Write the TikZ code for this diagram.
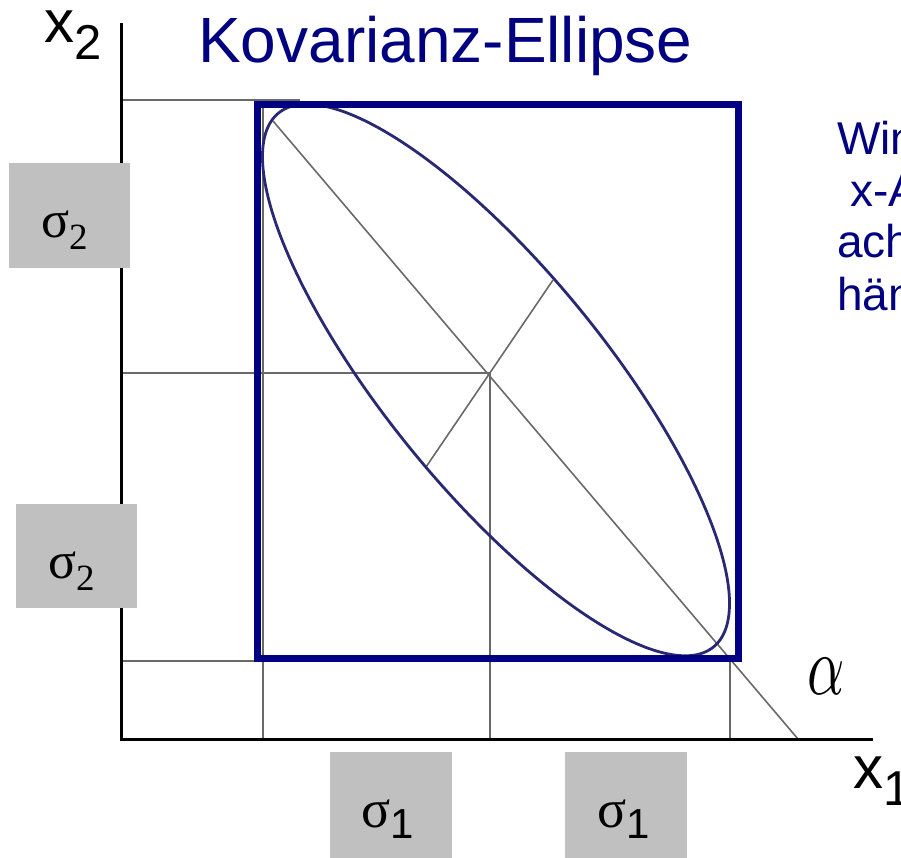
\documentclass[tikz,border=0pt]{standalone}
\usepackage{fontspec}
\setmainfont{Liberation Sans}
\newfontfamily\serifgreek{Liberation Serif}
\definecolor{navy}{RGB}{0,0,128}
\definecolor{ellcol}{RGB}{40,40,115}
\definecolor{guide}{RGB}{105,105,105}
\definecolor{sigbox}{RGB}{192,192,192}
\newcommand{\sigmaSerif}[1]{{\serifgreek\fontsize{52}{52}\selectfont σ}\raisebox{-12pt}{\serifgreek\fontsize{37}{37}\selectfont #1}}
\newcommand{\sigmaSans}[1]{{\serifgreek\fontsize{54}{54}\selectfont σ}\raisebox{-11pt}{\fontsize{42}{42}\selectfont #1}}
\begin{document}
\begin{tikzpicture}[x=1pt,y=-1pt,
  guideline/.style={draw=guide, line width=1.6pt},
  axisline/.style={draw=black, line width=3pt},
  boxline/.style={draw=navy, line width=7pt},
  ellipseline/.style={draw=ellcol, line width=2.8pt},
  sigmabox/.style={fill=sigbox, draw=none, inner sep=0pt, anchor=north west},
  lbl/.style={anchor=base west, inner sep=0pt},
  bluetext/.style={anchor=base west, inner sep=0pt, text=navy}]
\useasboundingbox (0,0) rectangle (901,858);
\begin{scope}
\clip (0,0) rectangle (901,858);
% coordinates
\coordinate (ytop) at (121,23);
\coordinate (orig) at (121,739);
\coordinate (xend) at (873,739);
\coordinate (hTopL) at (121,100);
\coordinate (hTopR) at (300,100);
\coordinate (hMidL) at (121,373);
\coordinate (cross) at (490,373);
\coordinate (cross0) at (490,739);
\coordinate (hBotL) at (121,661);
\coordinate (hBotR) at (256,661);
\coordinate (vLtop) at (263,105);
\coordinate (vLbot) at (263,739);
\coordinate (vRtop) at (730,658);
\coordinate (vRbot) at (730,739);
\coordinate (majA) at (273,121);
\coordinate (majB) at (798,739);
\coordinate (minA) at (426,467);
\coordinate (minB) at (553,280);
% guide lines
\draw[guideline] (hTopL) -- (hTopR);
\draw[guideline] (hMidL) -- (cross) -- (cross0);
\draw[guideline] (hBotL) -- (hBotR);
\draw[guideline] (vLtop) -- (vLbot);
\draw[guideline] (vRtop) -- (vRbot);
\draw[guideline] (majA) -- (majB);
\draw[guideline] (minA) -- (minB);
% axes
\draw[axisline] (ytop) -- (orig) -- (xend);
% ellipse
\draw[ellipseline] plot[domain=0:357, samples=120, smooth cycle, variable=\t]
  ({496+224*cos(\t)+66*sin(\t)},{380+260*cos(\t)-92*sin(\t)});
% bounding box
\draw[boxline] (257.5,105) rectangle (738.5,658);
% sigma boxes
\node[sigmabox, minimum width=121pt, minimum height=105pt] (sbA) at (9,163) {};
\node[sigmabox, minimum width=121pt, minimum height=104pt] (sbB) at (16,504) {};
\node[sigmabox, minimum width=122pt, minimum height=106pt] (sbC) at (330,752) {};
\node[sigmabox, minimum width=122pt, minimum height=106pt] (sbD) at (565,752) {};
\node[lbl] (sA) at (41,238) {\sigmaSerif{2}};
\node[lbl] (sB) at (48,578) {\sigmaSerif{2}};
\node[lbl] (sC) at (361,827) {\sigmaSans{1}};
\node[lbl] (sD) at (597,827) {\sigmaSans{1}};
% axis labels
\node[lbl] (x2lab) at (44,43) {\fontsize{60}{60}\selectfont x\raisebox{-17pt}{\fontsize{49}{49}\selectfont 2}};
\node[lbl] (x1lab) at (853,788) {\fontsize{60}{60}\selectfont x\raisebox{-17pt}{\fontsize{49}{49}\selectfont 1}};
\node[inner sep=0pt] (alpha) at (826,676) {\scalebox{5.8}[8.4]{$\alpha$}};
% title
\node[bluetext] (title) at (198,63) {\fontsize{64}{64}\selectfont Kovarianz-Ellipse};
% right text (cut by page edge)
\node[bluetext] (r1) at (837,155) {\fontsize{46}{46}\selectfont Win};
\node[bluetext] (r2) at (850,207) {\fontsize{46}{46}\selectfont x-A};
\node[bluetext] (r3) at (837,258) {\fontsize{46}{46}\selectfont ach};
\node[bluetext] (r4) at (837,310) {\fontsize{46}{46}\selectfont hän};
\end{scope}
\end{tikzpicture}
\end{document}
